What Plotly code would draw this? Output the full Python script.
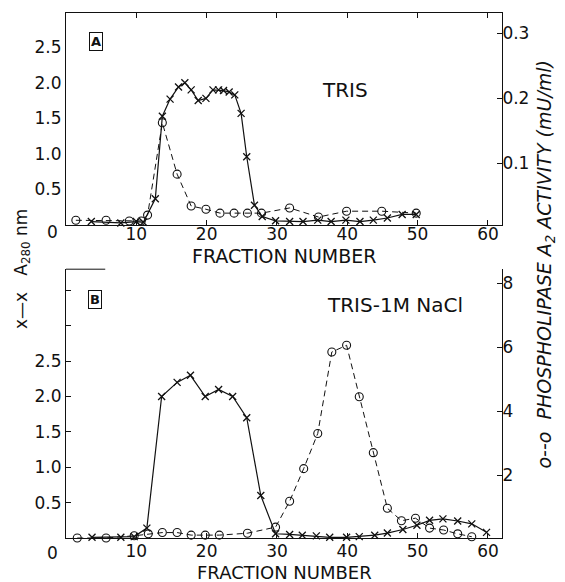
import plotly.graph_objects as go

# ---------------- data ----------------
# Panel A (TRIS): absorbance at 280 nm (x---x)
a_cross_frac = [3.6, 7.8, 10, 11, 12.7, 13.7, 14.8, 16, 16.9, 17.8, 18.8, 19.9, 20.9, 21.7,
                22.4, 23.2, 24, 24.9, 25.7, 26.8, 27.9, 29.8, 31.8, 33.7, 35.8, 37.7,
                39.8, 41.8, 43.7, 45.7, 47.8, 49.8]
a_cross_a280 = [0.05, 0.03, 0.05, 0.04, 0.37, 1.53, 1.77, 1.94, 2.0, 1.9, 1.75, 1.78, 1.9, 1.9,
                1.89, 1.87, 1.83, 1.57, 0.96, 0.28, 0.12, 0.06, 0.05, 0.05, 0.07, 0.05,
                0.07, 0.05, 0.07, 0.1, 0.15, 0.15]
# Panel A: phospholipase A2 activity (o- -o), mU/ml
a_circ_frac = [1.4, 5.7, 9.0, 10.7, 11.6, 13.7, 15.8, 17.8, 19.9, 21.9, 23.9, 25.8, 27.8,
               31.8, 35.9, 39.9, 44.9, 49.8]
a_circ_act = [0.012, 0.012, 0.011, 0.011, 0.020, 0.162, 0.083, 0.034, 0.029, 0.023, 0.023,
              0.023, 0.023, 0.031, 0.017, 0.026, 0.026, 0.023]

# Panel B (TRIS-1M NaCl): absorbance at 280 nm
b_cross_frac = [3.7, 7.8, 9.7, 11.5, 13.6, 15.8, 17.7, 19.8, 21.7, 23.7, 25.7, 27.7, 29.8,
                31.8, 33.6, 35.6, 37.5, 39.9, 41.7, 43.9, 45.7, 47.9, 49.9, 51.7, 53.6,
                55.7, 57.7, 59.8]
b_cross_a280 = [0.01, 0.01, 0.02, 0.14, 2.0, 2.2, 2.3, 2.0, 2.1, 2.0, 1.7, 0.6, 0.06,
                0.05, 0.04, 0.03, 0.01, 0.01, 0.02, 0.04, 0.07, 0.12, 0.18, 0.25, 0.27,
                0.24, 0.2, 0.08]
# Panel B: phospholipase A2 activity
b_circ_frac = [1.6, 5.7, 9.7, 11.7, 13.7, 15.8, 17.8, 19.8, 21.8, 25.8, 29.8, 31.8, 33.8,
               35.8, 37.8, 39.9, 41.7, 43.7, 45.7, 47.7, 49.7, 51.7, 53.7, 55.7, 57.7]
b_circ_act = [0.03, 0.03, 0.1, 0.16, 0.2, 0.2, 0.12, 0.12, 0.12, 0.18, 0.37, 1.18, 2.2,
              3.3, 5.85, 6.06, 4.45, 2.7, 0.96, 0.57, 0.65, 0.34, 0.28, 0.16, 0.07]

x_ticks = [10, 20, 30, 40, 50, 60]
a_left_ticks = [0.5, 1.0, 1.5, 2.0, 2.5]
a_left_labels = ["0.5", "1.0", "1.5", "2.0", "2.5"]
a_right_ticks = [0.1, 0.2, 0.3]
a_right_labels = ["0.1", "0.2", "0.3"]
b_left_ticks = [0.5, 1.0, 1.5, 2.0, 2.5]
b_left_minor = [3.0, 3.5]
b_right_ticks = [2, 4, 6, 8]

FONT = "DejaVu Sans"
INK = "#111111"

cross_style = dict(mode="lines+markers", line=dict(color=INK, width=1.2),
                   marker=dict(symbol="x-thin", size=7, line=dict(color=INK, width=1.3)),
                   cliponaxis=False, showlegend=False)
circ_style = dict(mode="lines+markers", line=dict(color=INK, width=1, dash="6px,4px"),
                  marker=dict(symbol="circle-open", size=8, color=INK, line=dict(width=1.1)),
                  cliponaxis=False, showlegend=False)

fig = go.Figure()
fig.add_trace(go.Scatter(x=a_circ_frac, y=a_circ_act, xaxis="x", yaxis="y2", **circ_style))
fig.add_trace(go.Scatter(x=a_cross_frac, y=a_cross_a280, xaxis="x", yaxis="y", **cross_style))
fig.add_trace(go.Scatter(x=b_circ_frac, y=b_circ_act, xaxis="x2", yaxis="y4", **circ_style))
fig.add_trace(go.Scatter(x=b_cross_frac, y=b_cross_a280, xaxis="x2", yaxis="y3", **cross_style))

tickfont = dict(family=FONT, size=17, color=INK)
axcommon = dict(showgrid=False, zeroline=False, showline=True, linecolor=INK, linewidth=1,
                ticklen=5, tickcolor=INK, tickwidth=1, tickfont=tickfont)

# page body has an 8px margin: figure is sized so that it fills the 565x582 window
fig.update_layout(
    width=557, height=574,
    margin=dict(l=58, r=63, t=5, b=44, autoexpand=False),
    plot_bgcolor="white", paper_bgcolor="white",
    xaxis=dict(domain=[0, 1], anchor="y", range=[0, 62], tickvals=x_ticks,
               ticks="inside", mirror="ticks", ticklabelstandoff=-7, **axcommon),
    yaxis=dict(domain=[0.596, 1], anchor="x", range=[0, 2.98], tickvals=a_left_ticks,
               ticktext=a_left_labels, ticks="", **axcommon),
    yaxis2=dict(overlaying="y", side="right", anchor="x", range=[0.0046, 0.331],
                tickvals=a_right_ticks, ticktext=a_right_labels, ticks="inside",
                ticklabelstandoff=-4, **axcommon),
    xaxis2=dict(domain=[0, 1], anchor="y3", range=[0, 62], tickvals=x_ticks,
                ticks="inside", ticklabelstandoff=-2, **axcommon),
    yaxis3=dict(domain=[0, 0.512], anchor="x2", range=[0, 3.80], tickvals=b_left_ticks,
                ticktext=a_left_labels, ticks="inside",
                minor=dict(tickvals=b_left_minor, ticks="inside", ticklen=5, tickcolor=INK),
                **axcommon),
    yaxis4=dict(overlaying="y3", side="right", anchor="x2", range=[0.03, 8.44],
                tickvals=b_right_ticks, ticks="inside", ticklabelstandoff=-4, **axcommon),
)

ann_font = dict(family=FONT, size=20, color=INK)


def note(text, x, y, font, **kw):
    return dict(text=text, x=x, y=y, xref="paper", yref="paper", showarrow=False,
                xanchor="center", yanchor="middle", font=font, **kw)


box_font = dict(family=FONT, size=13, color=INK)
annotations = [
    note("FRACTION NUMBER", 0.5, 0.537, dict(family=FONT, size=19, color=INK)),
    note("FRACTION NUMBER", 0.5, -0.0648, dict(family=FONT, size=18, color=INK)),
    note("TRIS", 0.64, 0.853, ann_font),
    note("TRIS-1M NaCl", 0.755, 0.444, ann_font),
    note("<b>A</b>", 0.069, 0.945, box_font, bordercolor=INK, borderwidth=1, borderpad=1),
    note("<b>B</b>", 0.067, 0.455, box_font, bordercolor=INK, borderwidth=1, borderpad=1),
    note("0", -0.032, 0.583, tickfont),
    note("0", -0.032, -0.029, tickfont),
    note("x\u2014x   A<sub>280</sub> nm", -0.10, 0.513, dict(family=FONT, size=17, color=INK),
         textangle=-90),
    note("<i>o--o  PHOSPHOLIPASE A<sub>2</sub> ACTIVITY (mU/ml)</i>", 1.100, 0.522,
         dict(family=FONT, size=19, color=INK), textangle=-90),
]
fig.update_layout(annotations=annotations)

# partial top border stub of panel B
fig.add_shape(type="line", xref="x2 domain", yref="y3 domain", x0=0, x1=0.09, y0=1, y1=1,
              line=dict(color=INK, width=1))

fig.write_html("out.html")
